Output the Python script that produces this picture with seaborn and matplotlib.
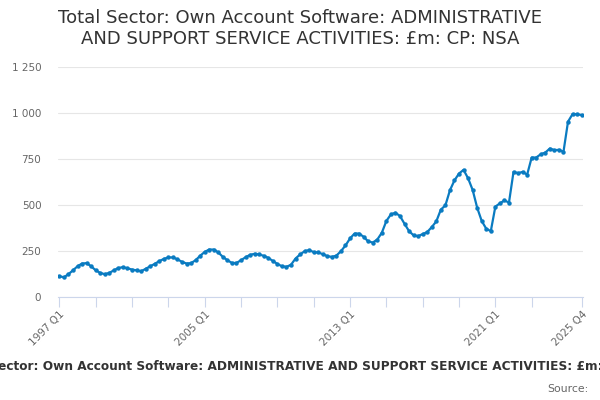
import matplotlib
matplotlib.use("Agg")
import matplotlib.pyplot as plt
import seaborn as sns
import pandas as pd
import numpy as np

years = list(range(1997, 2026))
quarters = [f"{y} Q{q}" for y in years for q in range(1, 5)]

values = [
    113, 107, 124, 145, 167, 182, 184, 167, 145, 131, 124, 131, 145, 158, 162, 156,
    149, 145, 140, 153, 167, 180, 195, 207, 215, 215, 205, 191, 182, 184, 200, 224,
    245, 258, 258, 242, 218, 200, 185, 185, 200, 216, 229, 235, 231, 224, 213, 196,
    180, 167, 164, 175, 209, 231, 249, 255, 244, 242, 233, 222, 218, 225, 249, 280,
    318, 345, 345, 327, 302, 296, 312, 349, 413, 449, 458, 440, 398, 358, 335, 331,
    342, 353, 380, 411, 475, 498, 580, 634, 671, 691, 645, 582, 485, 413, 371, 358,
    491, 509, 525, 513, 680, 673, 680, 665, 758, 758, 776, 785, 807, 798, 800, 789,
    953, 994, 993, 989,
]

labelled = ["1997 Q1", "2005 Q1", "2013 Q1", "2021 Q1", "2025 Q4"]
y_ticks = [0, 250, 500, 750, 1000, 1250]

title = "Total Sector: Own Account Software: ADMINISTRATIVE\nAND SUPPORT SERVICE ACTIVITIES: £m: CP: NSA"
footer = "Total Sector: Own Account Software: ADMINISTRATIVE AND SUPPORT SERVICE ACTIVITIES: £m: CP: NSA"

df = pd.DataFrame({"idx": np.arange(len(quarters)), "quarter": quarters, "value": values})

sns.set_theme(style="white")
plt.rcParams['font.family'] = ['DejaVu Sans']

fig = plt.figure(figsize=(6, 4), dpi=100)
ax = fig.add_axes([58/600, 1-297/400, (583-58)/600, (297-67)/400])

sns.lineplot(data=df, x="idx", y="value", ax=ax, color="#0a7bc1", linewidth=1.6,
             marker="o", markersize=3.2, markeredgewidth=0, markeredgecolor="#0a7bc1")

ax.set_xlim(-0.3, len(quarters) - 1 + 0.3)
ax.set_ylim(0, 1250)
ax.set_yticks(y_ticks)
ax.set_yticklabels([f"{v:,}".replace(",", " ") for v in y_ticks], color="#666666", fontsize=7.5)
ax.grid(axis="y", color="#e6e6e6", linewidth=0.8)
ax.set_axisbelow(True)

tick_pos = list(range(0, 105, 8)) + [len(quarters) - 1]
ax.set_xticks(tick_pos)
ax.set_xticklabels([quarters[p] if quarters[p] in labelled else "" for p in tick_pos],
                   rotation=45, ha="right", rotation_mode="anchor", color="#666666", fontsize=7.5)
ax.tick_params(axis="x", direction="out", length=7, width=0.8, color="#ccd6eb", pad=2, bottom=True)
ax.tick_params(axis="y", length=0, pad=12)

for s in ["top", "right", "left"]:
    ax.spines[s].set_visible(False)
ax.spines["bottom"].set_color("#ccd6eb")
ax.spines["bottom"].set_linewidth(0.8)
ax.set_xlabel("")
ax.set_ylabel("")

fig.text(0.5, 1-28.5/400, title, ha="center", va="center", fontsize=13, color="#333333",
         linespacing=1.15)
fig.text(307.5/600, 1-367/400, footer, ha="center", va="center", fontsize=8.7, color="#333333",
         fontweight="bold")
fig.text(589/600, 1-389/400, "Source:", ha="right", va="center", fontsize=7.8, color="#666666")

fig.savefig("out.png", dpi=100)
